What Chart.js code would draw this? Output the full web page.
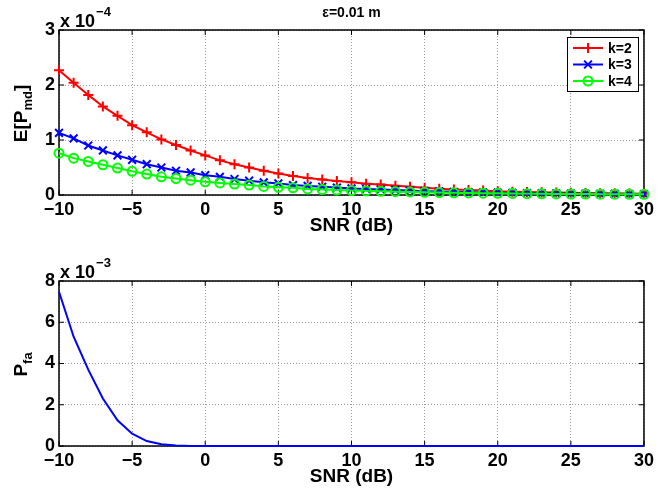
<!DOCTYPE html>
<html>
<head>
<meta charset="utf-8">
<script src="https://cdn.jsdelivr.net/npm/chart.js@4.4.1/dist/chart.umd.min.js"></script>
<style>
  html, body { margin: 0; padding: 0; background: #fff; }
  #wrap { position: relative; width: 658px; height: 491px; }
  canvas { position: absolute; left: 0; }
  #chartTop { top: 0; }
  #chartBottom { top: 251px; }
</style>
</head>
<body>
<div id="wrap">
  <canvas id="chartTop" width="658" height="240"></canvas>
  <canvas id="chartBottom" width="658" height="240"></canvas>
</div>
<script>
const FONT = "Liberation Sans";

const snr = [
  -10, -9, -8, -7, -6, -5, -4, -3, -2, -1, 0, 1, 2, 3, 4, 5, 6, 7, 8, 9, 10,
  11, 12, 13, 14, 15, 16, 17, 18, 19, 20, 21, 22, 23, 24, 25, 26, 27, 28, 29, 30,
];

// E[P_md] in units of 1e-4
const pmdK2 = [
  2.27, 2.04, 1.82, 1.61, 1.44, 1.27, 1.14, 1.01, 0.91, 0.81, 0.72, 0.63, 0.56,
  0.5, 0.44, 0.39, 0.345, 0.31, 0.28, 0.255, 0.23, 0.205, 0.19, 0.17, 0.15,
  0.133, 0.115, 0.1, 0.09, 0.08, 0.07, 0.06, 0.055, 0.05, 0.045, 0.04, 0.036,
  0.033, 0.03, 0.027, 0.025,
];
const pmdK3 = [
  1.13, 1.03, 0.9, 0.81, 0.72, 0.64, 0.56, 0.5, 0.44, 0.41, 0.36, 0.33, 0.29,
  0.26, 0.23, 0.21, 0.18, 0.165, 0.15, 0.135, 0.12, 0.11, 0.1, 0.09, 0.08, 0.07,
  0.065, 0.058, 0.052, 0.047, 0.042, 0.038, 0.034, 0.031, 0.028, 0.025, 0.023,
  0.021, 0.019, 0.017, 0.015,
];
const pmdK4 = [
  0.76, 0.67, 0.61, 0.55, 0.49, 0.43, 0.38, 0.33, 0.3, 0.27, 0.24, 0.22, 0.2,
  0.18, 0.155, 0.14, 0.13, 0.11, 0.1, 0.09, 0.08, 0.075, 0.068, 0.06, 0.055,
  0.05, 0.045, 0.04, 0.037, 0.034, 0.031, 0.028, 0.025, 0.022, 0.02, 0.018,
  0.016, 0.015, 0.014, 0.013, 0.012,
];

// P_fa in units of 1e-3
const pfa = [
  7.48, 5.3, 3.7, 2.3, 1.25, 0.6, 0.24, 0.08, 0.02, 0.005, 0.001, 0, 0, 0, 0,
  0, 0, 0, 0, 0, 0, 0, 0, 0, 0, 0, 0, 0, 0, 0, 0, 0, 0, 0, 0, 0, 0, 0, 0, 0, 0,
];

const xTicks = [-10, -5, 0, 5, 10, 15, 20, 25, 30];
const legendLabels = ["k=2", "k=3", "k=4"];

const toPoints = (ys) => ys.map((y, i) => ({ x: snr[i], y: y }));
const minusFmt = (v) => String(v).replace("-", "\u2212");

function drawMarker(ctx, style, x, y, r) {
  ctx.beginPath();
  if (style === "cross") {
    ctx.moveTo(x - r, y);
    ctx.lineTo(x + r, y);
    ctx.moveTo(x, y - r);
    ctx.lineTo(x, y + r);
  } else if (style === "crossRot") {
    const d = r * Math.SQRT1_2;
    ctx.moveTo(x - d, y - d);
    ctx.lineTo(x + d, y + d);
    ctx.moveTo(x + d, y - d);
    ctx.lineTo(x - d, y + d);
  } else {
    ctx.arc(x, y, r, 0, Math.PI * 2);
  }
  ctx.stroke();
}

// box + inward ticks like matlab
const matlabFrame = {
  id: "matlabFrame",
  beforeDatasetsDraw(chart) {
    const { ctx, chartArea: a, scales } = chart;
    ctx.save();
    ctx.strokeStyle = "#000";
    ctx.lineWidth = 1;
    const tl = 5;
    ctx.beginPath();
    scales.x.ticks.forEach((t) => {
      const px = scales.x.getPixelForValue(t.value);
      ctx.moveTo(px, a.bottom);
      ctx.lineTo(px, a.bottom - tl);
      ctx.moveTo(px, a.top);
      ctx.lineTo(px, a.top + tl);
    });
    scales.y.ticks.forEach((t) => {
      const py = scales.y.getPixelForValue(t.value);
      ctx.moveTo(a.left, py);
      ctx.lineTo(a.left + tl, py);
      ctx.moveTo(a.right, py);
      ctx.lineTo(a.right - tl, py);
    });
    ctx.stroke();
    ctx.lineWidth = 1.5;
    ctx.strokeRect(a.left, a.top, a.right - a.left, a.bottom - a.top);
    ctx.restore();
  },
};

// y label with subscript and the "x 10^n" factor
const labelsPlugin = {
  id: "labelsPlugin",
  afterDraw(chart, args, opts) {
    const { ctx, chartArea: a } = chart;
    ctx.save();
    ctx.fillStyle = "#000";
    ctx.textBaseline = "alphabetic";
    ctx.textAlign = "left";

    // rotated y title
    const big = "bold 19px '" + FONT + "'";
    const small = "bold 13px '" + FONT + "'";
    ctx.font = big;
    const w1 = ctx.measureText(opts.main).width;
    const w3 = opts.after ? ctx.measureText(opts.after).width : 0;
    ctx.font = small;
    const w2 = ctx.measureText(opts.sub).width;
    const total = w1 + w2 + w3;
    ctx.translate(27, (a.top + a.bottom) / 2 + 1);
    ctx.rotate(-Math.PI / 2);
    let x = -total / 2;
    ctx.font = big;
    ctx.fillText(opts.main, x, 0);
    x += w1;
    ctx.font = small;
    ctx.fillText(opts.sub, x, 5);
    x += w2;
    if (opts.after) {
      ctx.font = big;
      ctx.fillText(opts.after, x, 0);
    }
    ctx.setTransform(1, 0, 0, 1, 0, 0);

    // exponent factor
    ctx.font = "bold 18px '" + FONT + "'";
    ctx.fillText("x 10", a.left + 1, 26.5);
    const wx = ctx.measureText("x 10").width;
    ctx.font = "bold 13px '" + FONT + "'";
    ctx.fillText(opts.exp, a.left + 1 + wx + 1, 16);

    if (opts.title) {
      ctx.font = "bold 14px '" + FONT + "'";
      ctx.textAlign = "center";
      ctx.fillText(opts.title, (a.left + a.right) / 2, 17);
    }
    ctx.restore();
  },
};

const legendBox = {
  id: "legendBox",
  afterDraw(chart) {
    const { ctx } = chart;
    const ds = chart.data.datasets;
    ctx.save();
    ctx.fillStyle = "#fff";
    ctx.fillRect(567, 37, 71, 54);
    ctx.strokeStyle = "#000";
    ctx.lineWidth = 1;
    ctx.strokeRect(567.5, 37.5, 71, 54);
    const rows = [48, 64.5, 81];
    legendLabels.forEach((lbl, i) => {
      const d = ds[i];
      const y = rows[i];
      ctx.strokeStyle = d.borderColor;
      ctx.lineWidth = 2;
      ctx.beginPath();
      ctx.moveTo(573, y);
      ctx.lineTo(603, y);
      ctx.stroke();
      drawMarker(ctx, d.pointStyle, 588, y, d.pointRadius);
      ctx.fillStyle = "#000";
      ctx.font = "bold 14px '" + FONT + "'";
      ctx.textBaseline = "middle";
      ctx.fillText(lbl, 608, y + 1);
    });
    ctx.restore();
  },
};

function axisOptions(yMax, yStep) {
  return {
    x: {
      type: "linear",
      min: -10,
      max: 30,
      afterFit: (s) => {
        s.height = 45;
      },
      afterBuildTicks: (s) => {
        s.ticks = xTicks.map((v) => ({ value: v }));
      },
      grid: { color: "#999", lineWidth: 1, drawTicks: false },
      border: { display: false, dash: [1, 2] },
      ticks: {
        padding: 4,
        autoSkip: false,
        maxRotation: 0,
        color: "#000",
        font: { family: FONT, size: 18, weight: "bold" },
        callback: minusFmt,
      },
      title: {
        display: true,
        text: "SNR (dB)",
        color: "#000",
        font: { family: FONT, size: 19, weight: "bold", lineHeight: 1.2 },
        padding: { top: 0, bottom: 2.5 },
      },
    },
    y: {
      min: 0,
      max: yMax,
      afterFit: (s) => {
        s.width = 59;
      },
      grid: { color: "#999", lineWidth: 1, drawTicks: false },
      border: { display: false, dash: [1, 2] },
      ticks: {
        stepSize: yStep,
        padding: 4,
        color: "#000",
        font: { family: FONT, size: 18, weight: "bold" },
        callback: minusFmt,
      },
    },
  };
}

const baseOptions = {
  responsive: false,
  animation: false,
  events: [],
  layout: { padding: { left: 0, right: 13, top: 30, bottom: 0 } },
  elements: { line: { tension: 0 } },
  plugins: { legend: { display: false }, tooltip: { enabled: false } },
};

new Chart(document.getElementById("chartTop"), {
  type: "line",
  data: {
    datasets: [
      {
        label: legendLabels[0],
        data: toPoints(pmdK2),
        borderColor: "#ff0000",
        borderWidth: 2,
        pointStyle: "cross",
        pointRadius: 5,
        pointBorderWidth: 2,
        pointBorderColor: "#ff0000",
        pointBackgroundColor: "#ff0000",
        clip: false,
        order: 2,
      },
      {
        label: legendLabels[1],
        data: toPoints(pmdK3),
        borderColor: "#0000ff",
        borderWidth: 2,
        pointStyle: "crossRot",
        pointRadius: 5.5,
        pointBorderWidth: 2,
        pointBorderColor: "#0000ff",
        pointBackgroundColor: "#0000ff",
        clip: false,
        order: 1,
      },
      {
        label: legendLabels[2],
        data: toPoints(pmdK4),
        borderColor: "#00ff00",
        borderWidth: 2,
        pointStyle: "circle",
        pointRadius: 4.5,
        pointBorderWidth: 2,
        pointBorderColor: "#00ff00",
        pointBackgroundColor: "rgba(0,0,0,0)",
        clip: false,
        order: 0,
      },
    ],
  },
  options: {
    ...baseOptions,
    scales: axisOptions(3, 1),
    plugins: {
      ...baseOptions.plugins,
      labelsPlugin: { main: "E[P", sub: "md", after: "]", exp: "\u22124", title: "\u03b5=0.01 m" },
    },
  },
  plugins: [matlabFrame, labelsPlugin, legendBox],
});

new Chart(document.getElementById("chartBottom"), {
  type: "line",
  data: {
    datasets: [
      {
        label: "Pfa",
        data: toPoints(pfa),
        borderColor: "#0000ff",
        borderWidth: 2,
        pointRadius: 0,
        clip: false,
      },
    ],
  },
  options: {
    ...baseOptions,
    scales: axisOptions(8, 2),
    plugins: {
      ...baseOptions.plugins,
      labelsPlugin: { main: "P", sub: "fa", after: "", exp: "\u22123" },
    },
  },
  plugins: [matlabFrame, labelsPlugin],
});
</script>
</body>
</html>
